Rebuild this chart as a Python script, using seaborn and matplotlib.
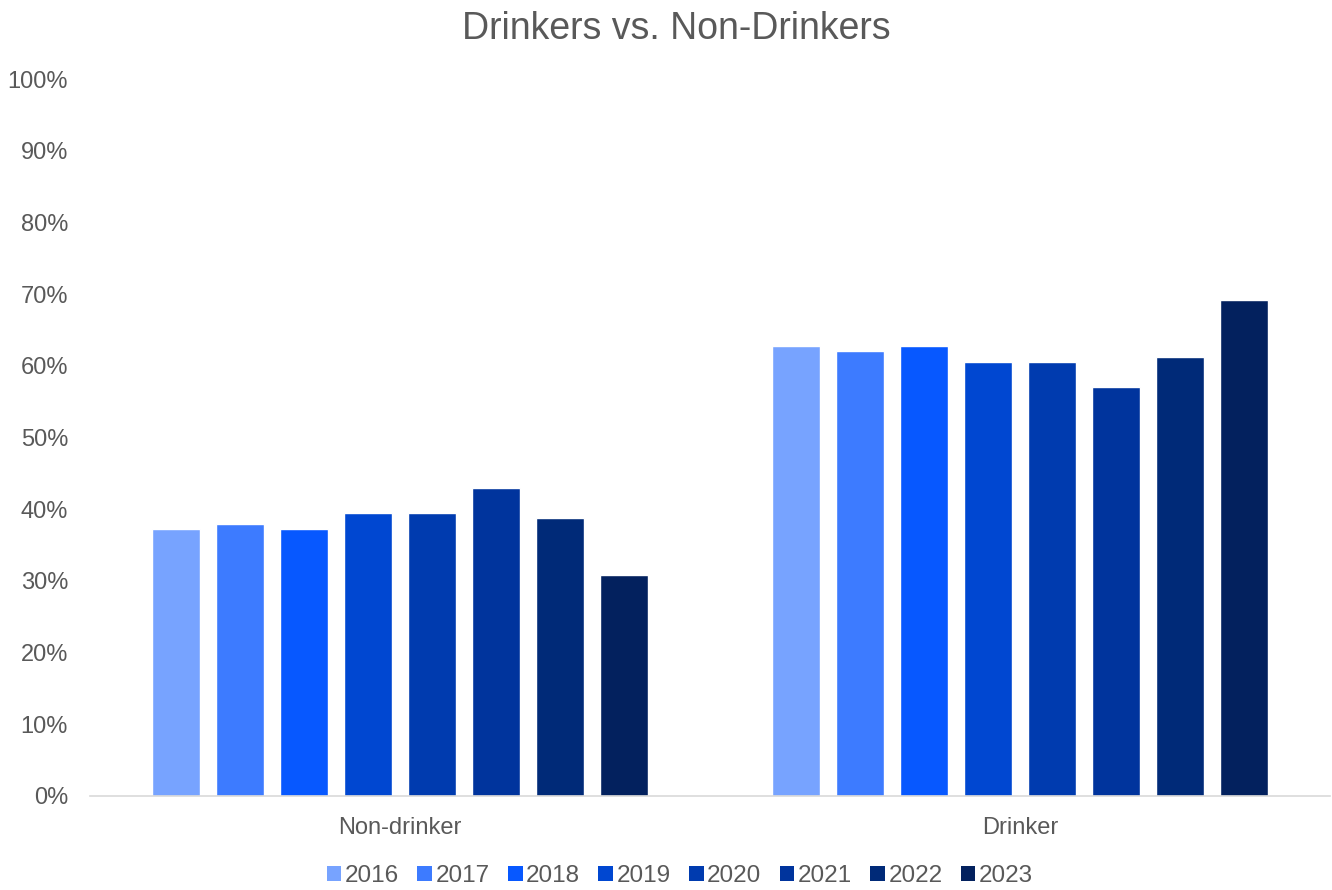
import matplotlib
matplotlib.use("Agg")
import matplotlib.pyplot as plt
import seaborn as sns
import pandas as pd
from matplotlib.ticker import FuncFormatter
from matplotlib.patches import Patch

categories = ["Non-drinker", "Drinker"]
years = ["2016", "2017", "2018", "2019", "2020", "2021", "2022", "2023"]
non_drinker = [37.3, 37.9, 37.2, 39.5, 39.5, 43.0, 38.8, 30.8]
drinker = [62.7, 62.1, 62.8, 60.5, 60.5, 57.0, 61.2, 69.2]
colors = ["#77A3FF", "#3D7BFF", "#0758FF", "#0047D1", "#003BAF", "#00349D", "#002A78", "#03215E"]

rows = []
for y, nd, d in zip(years, non_drinker, drinker):
    rows.append({"Category": categories[0], "Year": y, "Share": nd})
    rows.append({"Category": categories[1], "Year": y, "Share": d})
df = pd.DataFrame(rows)

sns.set_theme(style="white")
plt.rcParams["font.family"] = ["Liberation Sans", "DejaVu Sans"]

fig = plt.figure(figsize=(13.32, 8.90), dpi=100)
ax = fig.add_axes([90 / 1332, 1 - 796 / 890, 1240 / 1332, 717 / 890])

sns.barplot(data=df, x="Category", y="Share", hue="Year", order=categories,
            hue_order=years, palette=colors, width=0.826, gap=0.25,
            saturation=1, errorbar=None, legend=False, ax=ax)

ax.set_ylim(0, 100)
ax.set_xlim(-0.5, 1.5)
ax.set_yticks(range(0, 101, 10))
ax.yaxis.set_major_formatter(FuncFormatter(lambda v, p: f"{int(v)}%"))
ax.set_xlabel("")
ax.set_ylabel("")
for s in ["top", "right", "left"]:
    ax.spines[s].set_visible(False)
ax.spines["bottom"].set_color("#D9D9D9")
ax.spines["bottom"].set_linewidth(1.2)
ax.tick_params(axis="both", length=0, labelsize=17, colors="#595959")
ax.tick_params(axis="y", pad=15.8)
ax.tick_params(axis="x", pad=15)
ax.grid(False)

fig.suptitle("Drinkers vs. Non-Drinkers", x=676 / 1332, y=0.988, fontsize=27, color="#595959")

handles = [Patch(facecolor=c, edgecolor="none") for c in colors]
fig.legend(handles, years, loc="center", bbox_to_anchor=(680 / 1332, 1 - 876 / 890),
           ncol=8, frameon=False, fontsize=17.5, labelcolor="#595959",
           handlelength=0.6, handleheight=0.6, handletextpad=0.15, columnspacing=0.75)

fig.savefig("out.png", dpi=100, facecolor="white")
